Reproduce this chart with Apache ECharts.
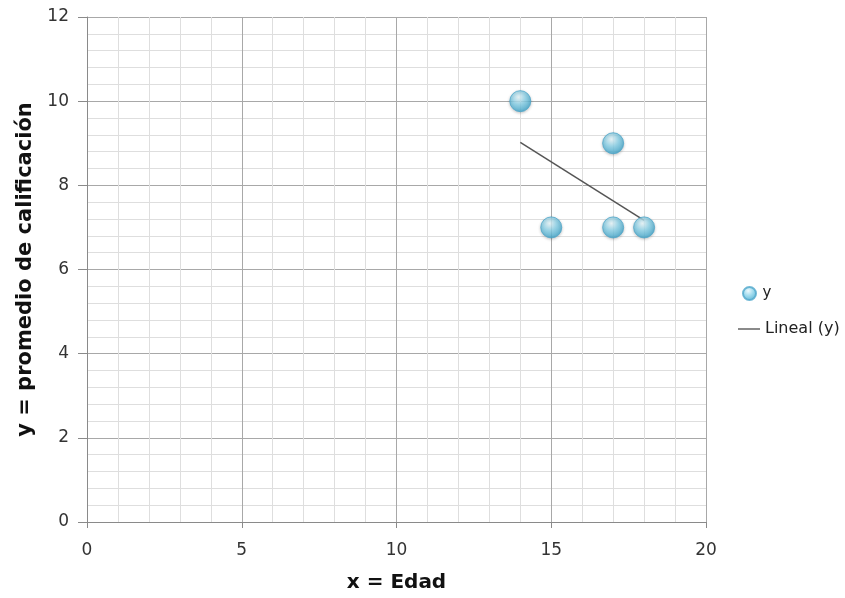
<!DOCTYPE html>
<html>
<head>
<meta charset="utf-8">
<script src="https://cdn.jsdelivr.net/npm/echarts@6/dist/echarts.min.js"></script>
<style>html,body{margin:0;padding:0;background:#fff}#c{width:845px;height:598px}</style>
</head>
<body>
<div id="c"></div>
<script>
const edad = [14, 15, 17, 17, 18];
const promedio = [10, 7, 9, 7, 7];
const trendX = [14, 18];
const trendY = [9.02, 7.17];
const xTitle = 'x = Edad';
const yTitle = 'y = promedio de calificación';

const font = '"DejaVu Sans", sans-serif';
const chart = echarts.init(document.getElementById('c'), null, {renderer: 'canvas'});
chart.setOption({
  animation: false,
  backgroundColor: '#fff',
  grid: {left: 87, right: 139, top: 17, bottom: 73, containLabel: false},
  legend: [
    {
      orient: 'vertical', left: 737, top: 281,
      itemWidth: 16, itemHeight: 13,
      textStyle: {fontFamily: font, fontSize: 15, color: '#222'},
      data: [{name: 'y', icon: 'circle'}]
    },
    {
      orient: 'vertical', left: 733, top: 316,
      itemWidth: 22, itemHeight: 2, itemGap: 0,
      textStyle: {fontFamily: font, fontSize: 16, color: '#222'},
      data: [{name: 'Lineal (y)', icon: 'rect'}]
    }
  ],
  xAxis: {
    type: 'value', min: 0, max: 20, interval: 5,
    name: xTitle, nameLocation: 'middle', nameGap: 51,
    nameTextStyle: {fontFamily: font, fontSize: 20, fontWeight: 'bold', color: '#111'},
    axisLine: {show: true, lineStyle: {color: '#8a8a8a'}},
    axisTick: {show: true, length: 6, lineStyle: {color: '#8a8a8a'}},
    axisLabel: {fontFamily: font, fontSize: 17, color: '#333', margin: 20},
    splitLine: {show: true, lineStyle: {color: '#a8a8a8', width: 1}},
    minorTick: {show: false, splitNumber: 5},
    minorSplitLine: {show: true, lineStyle: {color: '#dedede', width: 1}}
  },
  yAxis: {
    type: 'value', min: 0, max: 12, interval: 2,
    name: yTitle, nameLocation: 'middle', nameGap: 47, nameRotate: 90,
    nameTextStyle: {fontFamily: font, fontSize: 21, fontWeight: 'bold', color: '#111'},
    axisLine: {show: true, lineStyle: {color: '#8a8a8a'}},
    axisTick: {show: true, length: 9, lineStyle: {color: '#8a8a8a'}},
    axisLabel: {fontFamily: font, fontSize: 17, color: '#333', margin: 18},
    splitLine: {show: true, lineStyle: {color: '#a8a8a8', width: 1}},
    minorTick: {show: false, splitNumber: 5},
    minorSplitLine: {show: true, lineStyle: {color: '#dedede', width: 1}}
  },
  series: [
    {
      name: 'y', type: 'scatter', symbol: 'circle', symbolSize: 21, z: 3,
      data: edad.map((x, i) => [x, promedio[i]]),
      itemStyle: {
        color: new echarts.graphic.RadialGradient(0.42, 0.32, 0.72, [
          {offset: 0, color: '#eaf8fc'},
          {offset: 0.45, color: '#8ad3ea'},
          {offset: 1, color: '#34a0c8'}
        ]),
        borderColor: '#4da6ca', borderWidth: 1,
        shadowColor: 'rgba(0,0,0,0.25)', shadowBlur: 3, shadowOffsetY: 1
      }
    },
    {
      name: 'Lineal (y)', type: 'line', symbol: 'none', z: 2,
      data: trendX.map((x, i) => [x, trendY[i]]),
      lineStyle: {color: '#555', width: 1.5},
      itemStyle: {color: '#8a8a8a'}
    }
  ]
});
</script>
</body>
</html>
